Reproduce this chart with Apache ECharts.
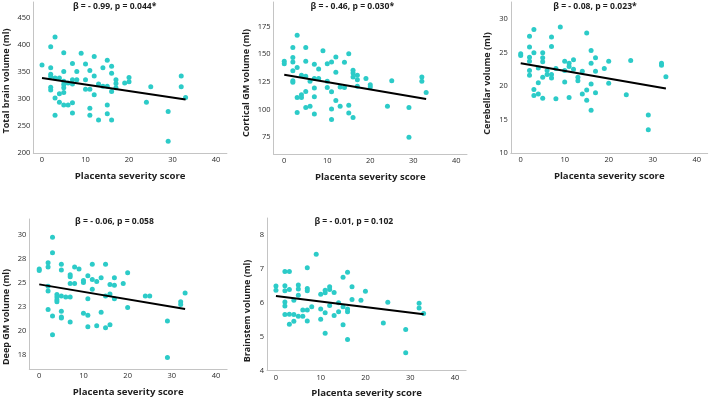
<!DOCTYPE html>
<html><head><meta charset="utf-8">
<script src="https://cdn.jsdelivr.net/npm/echarts@6/dist/echarts.min.js"></script>
<style>html,body{margin:0;padding:0;background:#fff}#c{width:709px;height:401px}</style>
</head><body><div id="c"></div>
<script>
// ---------- data ----------
const xName = 'Placenta severity score';
const severityTicks = [0, 10, 20, 30, 40];
const titles = ['β = - 0.99, p = 0.044*', 'β = - 0.46, p = 0.030*', 'β = - 0.08, p = 0.023*', 'β = - 0.06, p = 0.058', 'β = - 0.01, p = 0.102'];
const yNames = ['Total brain volume (ml)', 'Cortical GM volume (ml)', 'Cerebellar volume (ml)', 'Deep GM volume (ml)', 'Brainstem volume (ml)'];

const totalBrainTicks = [200, 250, 300, 350, 400, 450];
const corticalTicks = [75, 100, 125, 150, 175];
const cerebellarTicks = [10, 15, 20, 25, 30];
const deepGMTicks = [17.5, 20, 22.5, 25, 27.5, 30];
const brainstemTicks = [4, 5, 6, 7, 8];

const totalBrain = [[0,363],[2,397],[2,358],[2,346],[2,342],[2,322],[2,317],[3,415],[3,339],[3,302],[3,270],[4,339],[4,310],[4,294],
 [5,386],[5,351],[5,333],[5,327],[5,321],[5,312],[5,289],[6,330],[6,289],[7,366],[7,336],[7,328],[7,293],[7,274],[8,351],[8,336],
 [9,385],[10,365],[10,336],[10,318],[11,353],[11,318],[11,283],[11,270],[12,379],[12,343],[12,308],[13,328],[13,261],[14,358],[14,324],
 [15,372],[15,324],[15,289],[15,273],[16,361],[16,348],[16,314],[16,261],[17,336],[17,329],[17,321],[19,330],[20,340],[20,332],
 [24,294],[25,323],[29,277],[29,222],[32,343],[32,323],[33,303]];
const corticalGM = [[0,143.5],[0,141.4],[2,156],[2,147],[2,143],[2,135],[2,126],[2,124.6],[3,167],[3,138],[3,111],[3,97.5],[4,131],[4,113.4],[4,111],
 [5,156],[5,143.5],[5,130],[5,116.4],[5,102],[6,125.5],[6,103],[7,141],[7,128],[7,119.4],[7,111.6],[7,96],[8,136.6],[8,128],[9,153],
 [10,141.4],[10,125.5],[10,120],[11,143],[11,116],[11,100.5],[11,91],[12,147.4],[12,133.6],[12,108.3],[13,120.3],[13,103],[14,142.6],[14,120],
 [15,150.4],[15,104],[15,97],[16,135.4],[16,133],[16,129.4],[16,93],[17,131],[17,127],[17,121],[19,128],[20,122.4],[20,120.3],
 [24,103],[25,126],[29,102],[29,75],[32,129.4],[32,125.5],[33,115.5]];
const cerebellar = [[0,24.8],[0,24.55],[2,27.4],[2,25.8],[2,24.3],[2,23.7],[2,22.3],[2,21.6],[3,28.4],[3,24.95],[3,19.5],[3,18.6],[4,22.7],[4,20.5],[4,18.8],
 [5,24.95],[5,24.2],[5,23.6],[5,21.3],[5,18.2],[6,22.3],[6,21.7],[7,27.3],[7,25.9],[7,21.7],[7,21.2],[8,22.6],[8,18.1],[9,28.8],
 [10,23.7],[10,22.3],[10,20.6],[11,23.4],[11,22.9],[11,18.3],[12,23.9],[12,22.5],[13,21.3],[13,20.8],[14,22.2],[14,18.8],
 [15,27.9],[15,19.4],[15,17.9],[16,25.3],[16,23.4],[16,20.3],[16,16.4],[17,24.2],[17,22.2],[17,19.0],[19,22.6],[20,23.7],[20,20.4],
 [24,18.7],[25,23.8],[29,15.7],[29,13.5],[32,23.4],[32,23.1],[33,21.4]];
const deepGM = [[0,26.4],[0,26.25],[2,27.05],[2,26.6],[2,24.6],[2,24.1],[2,22.2],[3,29.7],[3,28.1],[3,21.5],[3,19.55],[4,23.75],[4,23.5],[4,23.2],[4,23.0],
 [5,26.9],[5,26.3],[5,23.6],[5,22.0],[5,21.4],[5,21.3],[6,23.5],[7,25.8],[7,25.6],[7,24.9],[7,23.5],[7,20.9],[8,26.6],[8,24.9],[9,26.4],
 [10,25.2],[10,25.0],[10,21.8],[11,25.7],[11,23.3],[11,21.6],[11,20.4],[12,26.9],[12,25.3],[12,24.3],[13,25.1],[13,20.5],[14,25.5],[14,21.9],
 [15,26.9],[15,23.6],[15,20.3],[16,24.8],[16,23.8],[16,20.6],[17,25.5],[17,24.7],[17,23.3],[19,24.9],[20,26.0],[20,22.4],
 [24,23.6],[25,23.6],[29,21.0],[29,17.2],[32,23.0],[32,22.7],[33,23.9]];
const brainstem = [[0,6.49],[0,6.37],[2,6.92],[2,6.5],[2,6.35],[2,6.02],[2,5.9],[2,5.65],[3,6.92],[3,6.39],[3,5.66],[3,5.36],[4,6.07],[4,5.65],[4,5.45],
 [5,6.52],[5,6.4],[5,6.22],[5,5.6],[6,5.78],[6,5.6],[7,7.03],[7,6.42],[7,6.35],[7,5.78],[7,5.46],[8,5.88],[9,7.43],
 [10,6.25],[10,5.81],[10,5.51],[11,6.37],[11,6.29],[11,5.7],[11,5.1],[12,6.47],[12,6.39],[12,5.92],[13,6.3],[13,5.62],[14,6.0],[14,5.73],
 [15,6.75],[15,5.88],[15,5.35],[16,6.9],[16,5.81],[16,5.73],[16,4.91],[17,6.47],[17,6.09],[19,6.07],[20,6.34],
 [24,5.4],[25,6.01],[29,5.21],[29,4.52],[32,5.98],[32,5.84],[33,5.68]];

const totalBrainFit = [[0,339],[33,299]];
const corticalFit = [[0,131.5],[33,109.5]];
const cerebellarFit = [[0,23.4],[33,19.65]];
const deepGMFit = [[0,24.8],[33,22.25]];
const brainstemFit = [[0,6.2],[33,5.66]];

// ---------- layout / style ----------
const points = [totalBrain, corticalGM, cerebellar, deepGM, brainstem];
const fits = [totalBrainFit, corticalFit, cerebellarFit, deepGMFit, brainstemFit];
const yTicks = [totalBrainTicks, corticalTicks, cerebellarTicks, deepGMTicks, brainstemTicks];
const yRange = [[200,480],[60,197],[10,32.5],[16,31.6],[4,8.5]];
const xMin = [-2,-2.5,-2.25,-2.25,-2];
const grids = [
  {left:33.3, top:2, width:193.6, height:151},
  {left:273.5, top:2, width:193.5, height:152},
  {left:510.8, top:2, width:196.9, height:151.3},
  {left:29.3, top:219, width:197.8, height:150},
  {left:267, top:218, width:199.1, height:152.4}
];
const titlePos = [[114.7,6.5],[352.3,6.5],[595,6.5],[114.5,222],[353.8,222]];
const yNamePos = [[6.7,81],[246,83],[487.5,83.5],[6.7,317],[247,311]];

const FONT = '"Open Sans", "Noto Sans", sans-serif';
const DOT = '#2ccbc8';
const AXIS = '#c4c4c4';
const TXT = '#1e1e1e';

const chart = echarts.init(document.getElementById('c'), null, {renderer:'canvas'});
const option = {
  animation:false,
  backgroundColor:'#fff',
  grid: grids.map(g => Object.assign({containLabel:false}, g)),
  xAxis: grids.map((g,i) => ({
    type:'value', gridIndex:i, min:xMin[i], max:42.5,
    name: xName, nameLocation:'middle', nameGap:18,
    nameTextStyle:{fontFamily:FONT, fontWeight:'bold', fontSize:9.6, color:TXT},
    axisLine:{show:true, onZero:false, lineStyle:{color:AXIS, width:1}},
    axisTick:{show:false, customValues:severityTicks},
    splitLine:{show:false},
    axisLabel:{customValues:severityTicks, fontFamily:FONT, fontSize:7.5, color:'#2a2a2a', margin:3}
  })),
  yAxis: grids.map((g,i) => ({
    type:'value', gridIndex:i, min:yRange[i][0], max:yRange[i][1],
    axisLine:{show:true, onZero:false, lineStyle:{color:AXIS, width:1}},
    axisTick:{show:false, customValues:yTicks[i]},
    splitLine:{show:false},
    axisLabel:{customValues:yTicks[i], fontFamily:FONT, fontSize:7.5, color:'#2a2a2a', margin:3,
      formatter: v => String(Math.round(v))}
  })),
  series: [].concat(
    points.map((d,i) => ({
      type:'scatter', xAxisIndex:i, yAxisIndex:i, data:d, symbolSize:5,
      itemStyle:{color:DOT, opacity:1}, z:2
    })),
    fits.map((d,i) => ({
      type:'line', xAxisIndex:i, yAxisIndex:i, data:d, symbol:'none',
      lineStyle:{color:'#000', width:2}, z:3
    }))
  ),
  graphic: [].concat(
    titles.map((t,i) => ({
      type:'text', x:titlePos[i][0], y:titlePos[i][1],
      style:{text:t, fontFamily:FONT, fontWeight:'bold', fontSize:8.6, fill:TXT, align:'center', verticalAlign:'middle'}
    })),
    yNames.map((t,i) => ({
      type:'text', x:yNamePos[i][0], y:yNamePos[i][1], rotation:Math.PI/2,
      style:{text:t, fontFamily:FONT, fontWeight:'bold', fontSize:9, fill:TXT, align:'center', verticalAlign:'middle'}
    }))
  )
};
chart.setOption(option);
</script>
</body></html>
